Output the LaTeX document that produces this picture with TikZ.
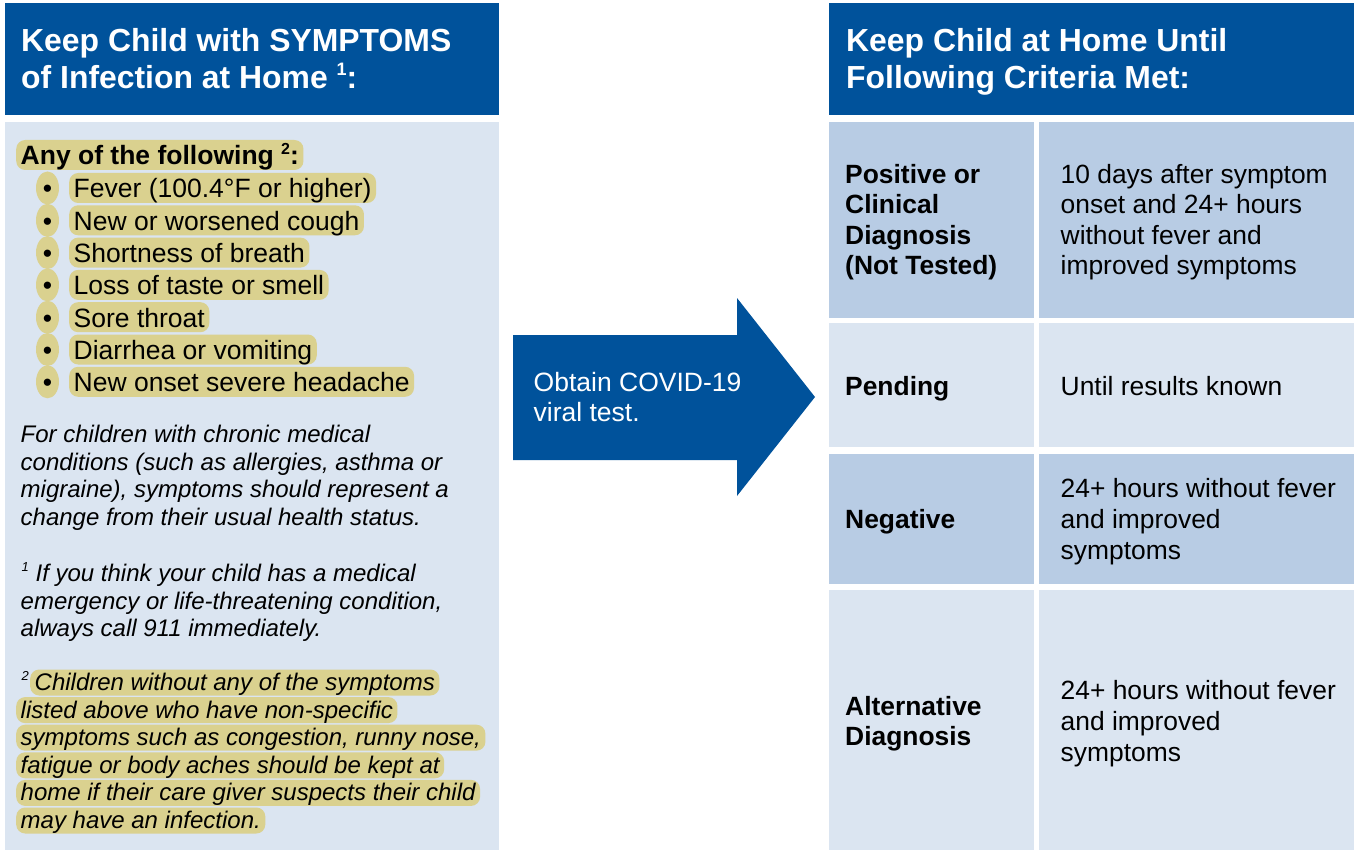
\documentclass[tikz,border=0pt]{standalone}
\usepackage{fontspec}
\usetikzlibrary{shapes.geometric}
\setmainfont{Liberation Sans}
\definecolor{hdrblue}{RGB}{0,82,155}
\definecolor{cellA}{RGB}{184,204,228}
\definecolor{cellB}{RGB}{219,229,241}
\definecolor{hilite}{RGB}{218,209,143}
\newcommand\bodyfs{\fontsize{26.5}{31.8}\selectfont}
\newcommand\tabfs{\fontsize{26.4}{30.3}\selectfont}
\newcommand\hdrfs{\fontsize{31.9}{37}\selectfont\bfseries}
\newcommand\itfs{\fontsize{24}{27.6}\selectfont\itshape}
\newcommand\supr[3]{\raisebox{#3pt}{\fontsize{#1}{#1}\selectfont #2}}
\begin{document}
\begin{tikzpicture}[x=1pt,y=-1pt,
  panel/.style={anchor=north west, inner sep=0pt, outer sep=0pt, minimum width=#1},
  hdrtxt/.style={anchor=base west, inner sep=0pt, text=white, font=\hdrfs},
  bodytxt/.style={anchor=base west, inner sep=0pt, font=\bodyfs},
  tabtxt/.style={anchor=base west, inner sep=0pt, font=\tabfs},
  tabbold/.style={anchor=base west, inner sep=0pt, font=\tabfs\bfseries},
  ittxt/.style={anchor=base west, inner sep=0pt, font=\itfs},
  hlbody/.style={anchor=base west, fill=hilite, rounded corners=9pt, inner xsep=4.5pt, inner ysep=0pt, text height=25pt, text depth=5pt, font=\bodyfs},
  hlit/.style={anchor=base west, fill=hilite, rounded corners=9pt, inner xsep=4.5pt, inner ysep=0pt, text height=21pt, text depth=5pt, font=\itfs},
  bulletpill/.style={fill=hilite, ellipse, inner sep=0pt, minimum width=23pt, minimum height=33pt},
]
\useasboundingbox (0,0) rectangle (1354,850);
\fill[white] (0,0) rectangle (1354,850);

% ---------- left column ----------
\node[panel=494pt, fill=hdrblue, minimum height=112pt] (lhead) at (5,3) {};
\node[panel=494pt, fill=cellB, minimum height=728pt] (lbody) at (5,122) {};
\node[hdrtxt] (lh1) at (21,52) {Keep Child with SYMPTOMS};
\node[hdrtxt] (lh2) at (21,89) {of Infection at Home \supr{18}{1}{13}:};

\node[hlbody, font=\bodyfs\bfseries] (any) at (16,165) {Any of the following \supr{16}{2}{10}:};
\foreach \t [count=\i] in {Fever (100.4°F or higher), New or worsened cough, Shortness of breath, Loss of taste or smell, Sore throat, Diarrhea or vomiting, New onset severe headache} {
  \node[bulletpill] (bul\i) at (47.5,{188+32.3*(\i-1)}) {};
  \node[anchor=base, inner sep=0pt, font=\bodyfs] (dot\i) at (47.5,{198+32.3*(\i-1)}) {•};
  \node[hlbody] (item\i) at (69,{198+32.3*(\i-1)}) {\t};
}

\foreach \t [count=\i] in {For children with chronic medical, {conditions (such as allergies, asthma or}, {migraine), symptoms should represent a}, change from their usual health status.} {
  \node[ittxt] (para\i) at (20.5,{442.6+27.6*(\i-1)}) {\t};
}

\node[ittxt] (fnA1) at (21.5,581.6) {\supr{13}{1}{10} If you think your child has a medical};
\node[ittxt] (fnA2) at (20.5,609.2) {emergency or life-threatening condition,};
\node[ittxt] (fnA3) at (20.5,636.8) {always call 911 immediately.};

\node[ittxt] (fnBs) at (21.5,690.5) {\supr{13}{2}{10}};
\node[hlit] (fnB1) at (30,690.5) {Children without any of the symptoms};
\foreach \t [count=\i from 2] in {listed above who have non-specific, {symptoms such as congestion, runny nose,}, fatigue or body aches should be kept at, home if their care giver suspects their child, may have an infection.} {
  \node[hlit] (fnB\i) at (16,{690.5+27.6*(\i-1)}) {\t};
}

% ---------- arrow ----------
\fill[hdrblue] (513,335) -- (737,335) -- (737,298) -- (815,397) -- (737,496) -- (737,460) -- (513,460) -- cycle;
\node[anchor=base west, inner sep=0pt, font=\bodyfs, text=white] (arr1) at (533.5,391.7) {Obtain COVID-19};
\node[anchor=base west, inner sep=0pt, font=\bodyfs, text=white] (arr2) at (533.5,421.7) {viral test.};

% ---------- right column ----------
\node[panel=525pt, fill=hdrblue, minimum height=112pt] (rhead) at (829,3) {};
\node[hdrtxt] (rh1) at (846,52) {Keep Child at Home Until};
\node[hdrtxt] (rh2) at (846,89) {Following Criteria Met:};

\node[panel=205pt, fill=cellA, minimum height=196pt] (c11) at (829,122) {};
\node[panel=315pt, fill=cellA, minimum height=196pt] (c12) at (1039,122) {};
\node[panel=205pt, fill=cellB, minimum height=124pt] (c21) at (829,323) {};
\node[panel=315pt, fill=cellB, minimum height=124pt] (c22) at (1039,323) {};
\node[panel=205pt, fill=cellA, minimum height=130pt] (c31) at (829,454) {};
\node[panel=315pt, fill=cellA, minimum height=130pt] (c32) at (1039,454) {};
\node[panel=205pt, fill=cellB, minimum height=260pt] (c41) at (829,590) {};
\node[panel=315pt, fill=cellB, minimum height=260pt] (c42) at (1039,590) {};

\foreach \t [count=\i] in {Positive or, Clinical, Diagnosis, (Not Tested)} {
  \node[tabbold] (r1l\i) at (845,{183.5+30.3*(\i-1)}) {\t};
}
\foreach \t [count=\i] in {10 days after symptom, onset and 24+ hours, without fever and, improved symptoms} {
  \node[tabtxt] (r1r\i) at (1060.5,{183.5+30.3*(\i-1)}) {\t};
}
\node[tabbold] (r2l) at (845,395) {Pending};
\node[tabtxt] (r2r) at (1060.5,395) {Until results known};

\node[tabbold] (r3l) at (845,528.3) {Negative};
\foreach \t [count=\i] in {24+ hours without fever, and improved, symptoms} {
  \node[tabtxt] (r3r\i) at (1060.5,{497+31*(\i-1)}) {\t};
}

\node[tabbold] (r4l1) at (845,715) {Alternative};
\node[tabbold] (r4l2) at (845,745.5) {Diagnosis};
\foreach \t [count=\i] in {24+ hours without fever, and improved, symptoms} {
  \node[tabtxt] (r4r\i) at (1060.5,{699+31*(\i-1)}) {\t};
}
\end{tikzpicture}
\end{document}
